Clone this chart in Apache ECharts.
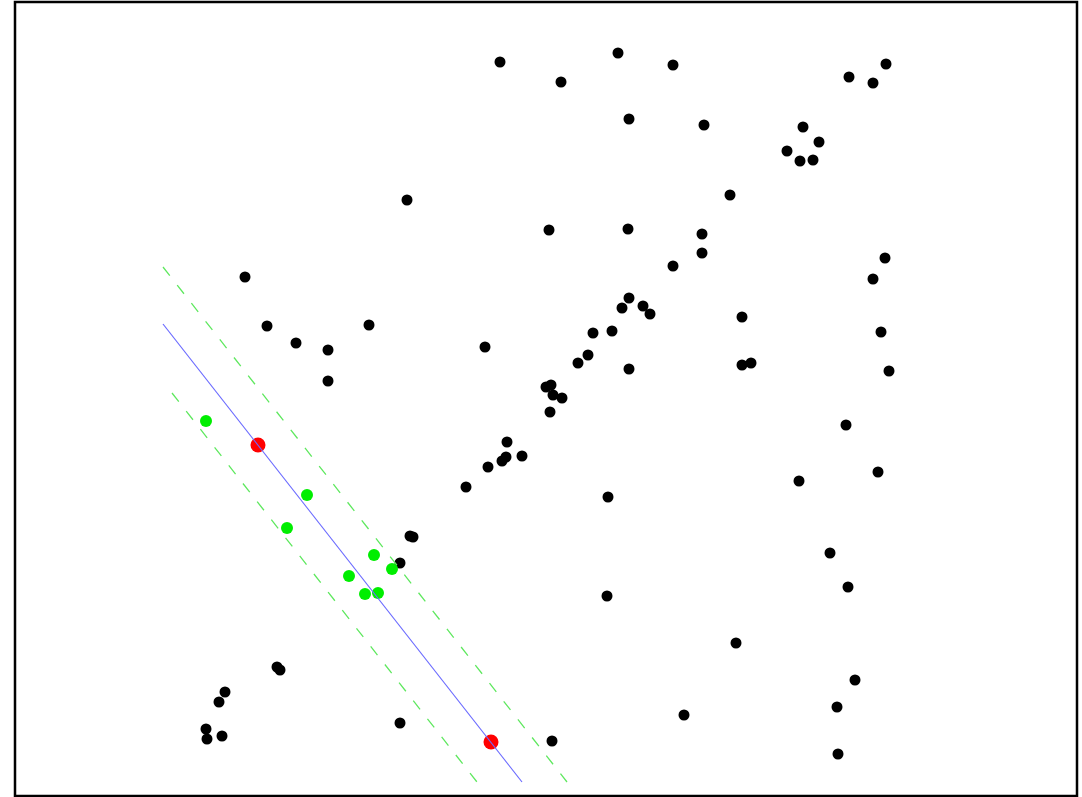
<!DOCTYPE html>
<html>
<head>
<meta charset="utf-8">
<script src="https://cdn.jsdelivr.net/npm/echarts@6/dist/echarts.min.js"></script>
<style>
  html, body { margin: 0; padding: 0; background: #fff; }
  #chart { width: 1082px; height: 797px; }
</style>
</head>
<body>
<div id="chart"></div>
<script>
// Outlier points (black)
const outliers = [
  [485,734],[546,714],[603,743],[658,731],[834,719],[858,713],[871,732],
  [614,677],[689,671],[788,669],[804,654],[772,645],[785,635],[798,636],
  [392,596],[715,601],[534,566],[613,567],[687,562],[687,543],[658,530],
  [870,538],[858,517],[230,519],[614,498],[607,488],[628,490],[635,482],
  [597,465],[578,463],[727,479],[866,464],[252,470],[354,471],[281,453],
  [313,446],[470,449],[573,441],[563,433],[727,431],[736,433],[614,427],
  [874,425],[313,415],[531,409],[536,411],[538,401],[547,398],[535,384],
  [831,371],[492,354],[491,339],[487,335],[507,340],[473,329],[451,309],
  [863,324],[784,315],[593,299],[395,260],[398,259],[385,233],[815,243],
  [833,209],[592,200],[721,153],[262,129],[265,126],[840,116],[210,104],
  [204,94],[669,81],[822,89],[385,73],[191,67],[192,57],[207,60],[537,55],
  [823,42]
];
// Inlier points (green)
const inliers = [
  [191,375],[292,301],[272,268],[359,241],[377,227],[334,220],[350,202],[363,203]
];
// Sampled points defining the model (red)
const samples = [[243,351],[476,54]];
// Fitted line and threshold band
const fitLine = [[148,472],[507,14]];
const upperBand = [[148,529],[552,14]];
const lowerBand = [[157,403],[462,14]];

const chart = echarts.init(document.getElementById('chart'));
const hiddenAxis = {
  type: 'value',
  axisLine: { show: false },
  axisTick: { show: false },
  axisLabel: { show: false },
  splitLine: { show: false }
};
chart.setOption({
  animation: false,
  backgroundColor: '#ffffff',
  grid: {
    left: 15, top: 2, width: 1062, height: 794,
    show: true, borderColor: '#000000', borderWidth: 2.5, backgroundColor: '#ffffff'
  },
  xAxis: Object.assign({}, hiddenAxis, { min: 0, max: 1062 }),
  yAxis: Object.assign({}, hiddenAxis, { min: 0, max: 794 }),
  series: [
    {
      type: 'scatter', data: outliers, symbolSize: 11, silent: true,
      itemStyle: { color: '#000000', opacity: 1 }
    },
    {
      type: 'scatter', data: inliers, symbolSize: 12, silent: true,
      itemStyle: { color: '#00ee00', opacity: 1 }
    },
    {
      type: 'scatter', data: samples, symbolSize: 15, silent: true,
      itemStyle: { color: '#ff0000', opacity: 1 }
    },
    {
      type: 'line', data: fitLine, showSymbol: false, silent: true,
      lineStyle: { color: '#6b6bff', width: 1.2 }
    },
    {
      type: 'line', data: upperBand, showSymbol: false, silent: true,
      lineStyle: { color: '#5fe85f', width: 1.3, type: [11, 12] }
    },
    {
      type: 'line', data: lowerBand, showSymbol: false, silent: true,
      lineStyle: { color: '#5fe85f', width: 1.3, type: [11, 12] }
    }
  ]
});
</script>
</body>
</html>
